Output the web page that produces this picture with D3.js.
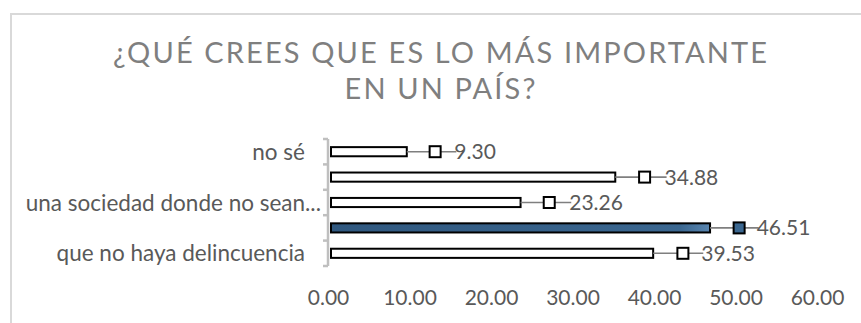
<!DOCTYPE html>
<html>
<head>
<meta charset="utf-8">
<script src="https://cdn.jsdelivr.net/npm/d3@7"></script>
<style>
  html, body { margin: 0; padding: 0; background: #fff; }
  svg { display: block; }
  text { font-family: Lato, "Open Sans", sans-serif; }
</style>
</head>
<body>
<div id="chart"></div>
<script>
// chart data, bottom category first (Excel order)
const categories = ['que no haya delincuencia', '', 'una sociedad donde no sean...', '', 'no sé'];
const values = [39.53, 46.51, 23.26, 34.88, 9.30];
const markerValues = [43.3, 50.2, 26.9, 38.6, 12.9];
const whiskerEnds = [45.8, 52.6, 29.6, 41.3, 15.5];
const highlighted = [false, true, false, false, false];
const xTicks = [0, 10, 20, 30, 40, 50, 60];
const titleLines = ['¿QUÉ CREES QUE ES LO MÁS IMPORTANTE', 'EN UN PAÍS?'];

const width = 861, height = 323;
const margin = { top: 139, right: 42, bottom: 58, left: 330 };

const svg = d3.select('#chart')
    .append('svg')
    .attr('width', width)
    .attr('height', height);

const defs = svg.append('defs');
const grad = defs.append('linearGradient')
    .attr('id', 'blueFill')
    .attr('x1', '0%').attr('x2', '100%')
    .attr('y1', '0%').attr('y2', '0%');
grad.append('stop').attr('offset', '0%').attr('stop-color', '#30587f');
grad.append('stop').attr('offset', '92%').attr('stop-color', '#3b6790');
grad.append('stop').attr('offset', '100%').attr('stop-color', '#5a86b0');

// chart frame
svg.append('rect')
    .attr('x', 11).attr('y', 14)
    .attr('width', width).attr('height', height)
    .attr('fill', '#fff')
    .attr('stroke', '#d9d9d9')
    .attr('stroke-width', 2);

// title
const titleFont = '"Liberation Sans Narrow", "DejaVu Sans Condensed", Lato, sans-serif';
const titleGroup = svg.append('g').attr('class', 'title');
const titleSize = 29;
const line1 = titleGroup.append('text')
    .attr('x', 440).attr('y', 63)
    .attr('text-anchor', 'middle')
    .attr('font-family', titleFont)
    .attr('font-size', titleSize)
    .attr('fill', '#7f7f7f')
    .text(titleLines[0]);
// spread letters so the first line spans the same width as the reference
const naturalLen = line1.node().getComputedTextLength();
const spacing = (654 - naturalLen) / (titleLines[0].length - 1);
line1.attr('letter-spacing', spacing).attr('x', 440 + spacing / 2);
titleGroup.append('text')
    .attr('x', 440 + spacing / 2).attr('y', 99)
    .attr('text-anchor', 'middle')
    .attr('font-family', titleFont)
    .attr('font-size', titleSize)
    .attr('fill', '#7f7f7f')
    .attr('letter-spacing', spacing)
    .text(titleLines[1]);

// scales
const x = d3.scaleLinear()
    .domain([0, 60])
    .range([margin.left, margin.left + 60 * 8.15]);

const y = d3.scaleBand()
    .domain(d3.range(categories.length).reverse())
    .range([margin.top, height - margin.bottom + 1])
    .paddingInner(0)
    .paddingOuter(0);

const barH = y.bandwidth() * 0.36;

// x axis labels only
const xAxis = d3.axisBottom(x)
    .tickValues(xTicks)
    .tickSize(0)
    .tickPadding(0)
    .tickFormat(d3.format('.2f'));

const xg = svg.append('g')
    .attr('transform', `translate(-2, ${290})`)
    .call(xAxis);
xg.select('.domain').remove();
xg.selectAll('text')
    .attr('font-family', 'Lato, "Open Sans", sans-serif')
    .attr('font-size', 21)
    .attr('fill', '#595959')
    .attr('dy', '0.72em');

// y axis: bracket line with ticks on band boundaries
const axisX = margin.left - 2;
const yAxisG = svg.append('g').attr('class', 'y-axis');
const bounds = y.domain().map(i => y(i)).concat([y(0) + y.step()]);
yAxisG.append('line')
    .attr('x1', axisX).attr('x2', axisX)
    .attr('y1', d3.min(bounds)).attr('y2', d3.max(bounds))
    .attr('stroke', '#bfbfbf')
    .attr('stroke-width', 2.5);
yAxisG.selectAll('.tick-mark')
    .data(bounds)
    .join('line')
    .attr('class', 'tick-mark')
    .attr('x1', axisX - 5).attr('x2', axisX)
    .attr('y1', d => d).attr('y2', d => d)
    .attr('stroke', '#bfbfbf')
    .attr('stroke-width', 2.5);

yAxisG.selectAll('.cat-label')
    .data(categories)
    .join('text')
    .attr('class', 'cat-label')
    .attr('x', d => d.endsWith('...') ? 321 : 305)
    .attr('y', (d, i) => y(i) + y.bandwidth() / 2)
    .attr('dy', '0.36em')
    .attr('text-anchor', 'end')
    .attr('font-size', 22.5)
    .attr('fill', '#595959')
    .text(d => d);

// bars
const rows = values.map((v, i) => ({
    value: v,
    marker: markerValues[i],
    whisker: whiskerEnds[i],
    hl: highlighted[i],
    i
}));

svg.append('g').attr('class', 'bars')
    .selectAll('rect')
    .data(rows)
    .join('rect')
    .attr('x', x(0) + 1)
    .attr('y', d => y(d.i) + (y.bandwidth() - barH) / 2)
    .attr('width', d => x(d.value) - x(0))
    .attr('height', barH)
    .attr('fill', d => d.hl ? 'url(#blueFill)' : '#fff')
    .attr('stroke', '#000')
    .attr('stroke-width', 2);

// whisker lines
svg.append('g').attr('class', 'whiskers')
    .selectAll('line')
    .data(rows)
    .join('line')
    .attr('x1', d => x(d.value) + 1)
    .attr('x2', d => x(d.whisker))
    .attr('y1', d => y(d.i) + y.bandwidth() / 2)
    .attr('y2', d => y(d.i) + y.bandwidth() / 2)
    .attr('stroke', '#7f7f7f')
    .attr('stroke-width', 1.6);

// value labels
svg.append('g').attr('class', 'value-labels')
    .selectAll('text')
    .data(rows)
    .join('text')
    .attr('x', d => x(d.whisker) - 2)
    .attr('y', d => y(d.i) + y.bandwidth() / 2)
    .attr('dy', '0.36em')
    .attr('font-size', 21)
    .attr('fill', '#595959')
    .text(d => d3.format('.2f')(d.value));

// square markers
const mSize = 11;
svg.append('g').attr('class', 'markers')
    .selectAll('rect')
    .data(rows)
    .join('rect')
    .attr('x', d => x(d.marker) - mSize / 2)
    .attr('y', d => y(d.i) + y.bandwidth() / 2 - mSize / 2)
    .attr('width', mSize)
    .attr('height', mSize)
    .attr('fill', d => d.hl ? '#3b6790' : '#fff')
    .attr('stroke', '#000')
    .attr('stroke-width', 2);
</script>
</body>
</html>
